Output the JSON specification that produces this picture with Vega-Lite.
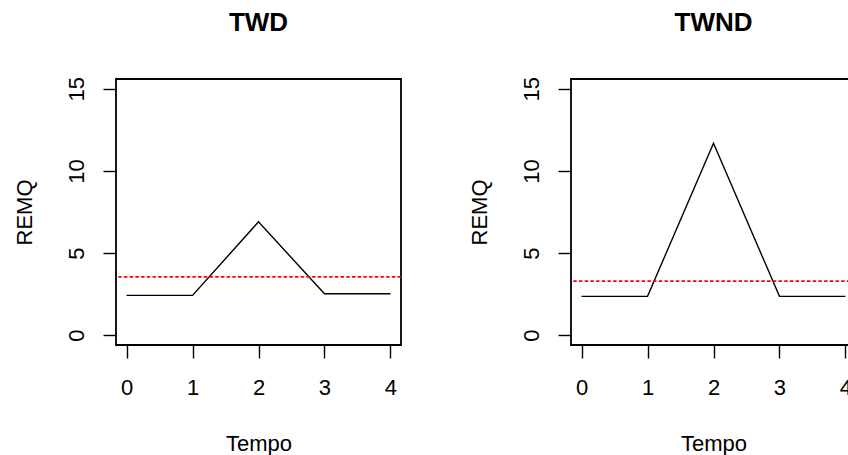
{
  "$schema": "https://vega.github.io/schema/vega-lite/v6.json",
  "padding": {"left": 12, "top": 8, "right": -9, "bottom": 0},
  "background": "white",
  "spacing": 170,
  "bounds": "flush",
  "config": {
    "font": "Liberation Sans",
    "view": {"stroke": "black", "strokeWidth": 1.8},
    "title": {"fontSize": 26, "fontWeight": "bold", "color": "black", "anchor": "middle", "baseline": "alphabetic", "offset": 41, "frame": "group", "font": "Liberation Sans"}
  },
  "hconcat": [
    {
      "width": 285, "height": 266,
      "title": "TWD",
      "layer": [
        {
          "data": {"values": [
            {"tempo": 0, "remq": 2.42},
            {"tempo": 1, "remq": 2.42},
            {"tempo": 2, "remq": 6.90},
            {"tempo": 3, "remq": 2.52},
            {"tempo": 4, "remq": 2.52}
          ]},
          "mark": {"type": "line", "color": "black", "strokeWidth": 1.4},
          "encoding": {
            "x": {"field": "tempo", "type": "quantitative", "title": "Tempo",
              "scale": {"domain": [-0.16, 4.16], "nice": false, "zero": false},
              "axis": {"values": [0, 1, 2, 3, 4], "format": "d", "domain": false, "grid": false,
                "tickColor": "black", "tickWidth": 1.4, "tickSize": 13,
                "labelFontSize": 22, "labelColor": "black", "labelPadding": 19, "labelFlush": false, "labelBaseline": "top", "labelFont": "Liberation Sans",
                "titleFontSize": 22, "titleFontWeight": "normal", "titleColor": "black", "titleBaseline": "alphabetic", "titleY": 105, "titleFont": "Liberation Sans"}},
            "y": {"field": "remq", "type": "quantitative", "title": "REMQ",
              "scale": {"domain": [-0.6, 15.6], "nice": false, "zero": false},
              "axis": {"values": [0, 5, 10, 15], "format": "d", "domain": false, "grid": false,
                "tickColor": "black", "tickWidth": 1.4, "tickSize": 13,
                "labelFontSize": 22, "labelColor": "black", "labelPadding": 27, "labelFlush": false, "labelAngle": -90, "labelAlign": "center", "labelBaseline": "middle", "labelFont": "Liberation Sans",
                "titleFontSize": 22, "titleFontWeight": "normal", "titleColor": "black", "titleBaseline": "middle", "titleX": -92, "titleAngle": -90, "titleFont": "Liberation Sans"}}
          }
        },
        {
          "data": {"values": [{"media": 3.55}]},
          "mark": {"type": "rule", "color": "#ff0000", "strokeWidth": 1.7, "strokeDash": [3.4, 2.3]},
          "encoding": {
            "y": {"field": "media", "type": "quantitative", "title": "REMQ"}
          }
        }
      ]
    },
    {
      "width": 285, "height": 266,
      "title": "TWND",
      "layer": [
        {
          "data": {"values": [
            {"tempo": 0, "remq": 2.36},
            {"tempo": 1, "remq": 2.36},
            {"tempo": 2, "remq": 11.69},
            {"tempo": 3, "remq": 2.36},
            {"tempo": 4, "remq": 2.36}
          ]},
          "mark": {"type": "line", "color": "black", "strokeWidth": 1.4},
          "encoding": {
            "x": {"field": "tempo", "type": "quantitative", "title": "Tempo",
              "scale": {"domain": [-0.16, 4.16], "nice": false, "zero": false},
              "axis": {"values": [0, 1, 2, 3, 4], "format": "d", "domain": false, "grid": false,
                "tickColor": "black", "tickWidth": 1.4, "tickSize": 13,
                "labelFontSize": 22, "labelColor": "black", "labelPadding": 19, "labelFlush": false, "labelBaseline": "top", "labelFont": "Liberation Sans",
                "titleFontSize": 22, "titleFontWeight": "normal", "titleColor": "black", "titleBaseline": "alphabetic", "titleY": 105, "titleFont": "Liberation Sans"}},
            "y": {"field": "remq", "type": "quantitative", "title": "REMQ",
              "scale": {"domain": [-0.6, 15.6], "nice": false, "zero": false},
              "axis": {"values": [0, 5, 10, 15], "format": "d", "domain": false, "grid": false,
                "tickColor": "black", "tickWidth": 1.4, "tickSize": 13,
                "labelFontSize": 22, "labelColor": "black", "labelPadding": 27, "labelFlush": false, "labelAngle": -90, "labelAlign": "center", "labelBaseline": "middle", "labelFont": "Liberation Sans",
                "titleFontSize": 22, "titleFontWeight": "normal", "titleColor": "black", "titleBaseline": "middle", "titleX": -92, "titleAngle": -90, "titleFont": "Liberation Sans"}}
          }
        },
        {
          "data": {"values": [{"media": 3.29}]},
          "mark": {"type": "rule", "color": "#ff0000", "strokeWidth": 1.7, "strokeDash": [3.4, 2.3]},
          "encoding": {
            "y": {"field": "media", "type": "quantitative", "title": "REMQ"}
          }
        }
      ]
    }
  ]
}
